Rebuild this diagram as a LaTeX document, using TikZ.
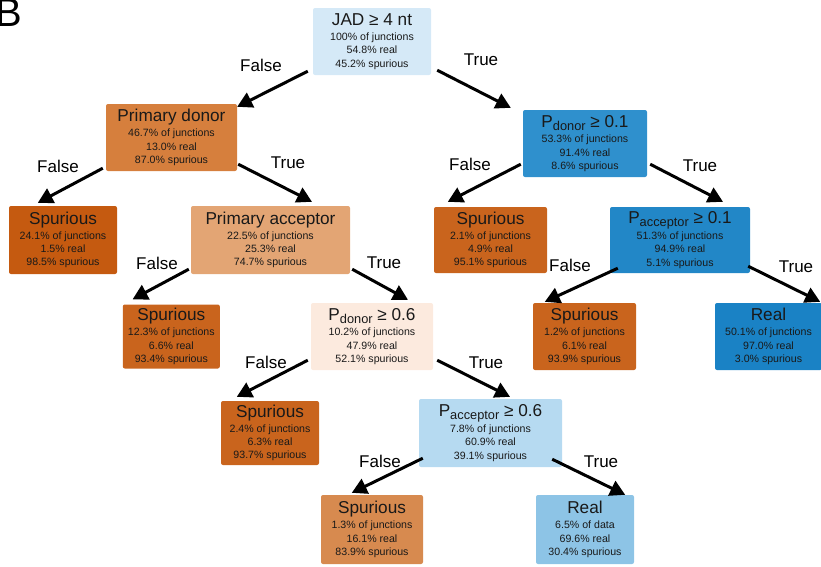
\documentclass[tikz,border=0pt]{standalone}
\usepackage{fontspec}
\setmainfont{Liberation Sans}
\usetikzlibrary{arrows.meta,calc}
\definecolor{cRoot}{HTML}{D5E9F7}
\definecolor{cPD}{HTML}{D67F3D}
\definecolor{cPa}{HTML}{E3A574}
\definecolor{cPdSix}{HTML}{FCEADE}
\definecolor{cSdeep}{HTML}{C55A10}
\definecolor{cSmid}{HTML}{C9641D}
\definecolor{cSlight}{HTML}{D78A4F}
\definecolor{cPone}{HTML}{2F90CD}
\definecolor{cPaone}{HTML}{2287C7}
\definecolor{cReal}{HTML}{1A82C5}
\definecolor{cPasix}{HTML}{B6DAF1}
\definecolor{cRealL}{HTML}{8DC4E6}
\newcommand{\ttl}{\fontsize{17.2}{19}\selectfont}
\newcommand{\subt}[1]{\raisebox{-3pt}{\fontsize{12.8}{13}\selectfont #1}}
\tikzset{
  box/.style 2 args={draw=none, rounded corners=2pt, inner sep=0pt, align=center,
    minimum width=#1, minimum height=#2,
    font=\fontsize{10.6}{13.4}\selectfont, text=black!90},
  lbl/.style={font=\fontsize{17}{19}\selectfont, inner sep=0pt},
  arr/.style={line width=3pt, -{Triangle[length=15pt,width=16pt]}}
}
\begin{document}
\begin{tikzpicture}[x=1pt,y=-1pt]
\useasboundingbox (0,0) rectangle (821,566);
\node[anchor=base east, font=\fontsize{40}{40}\selectfont, inner sep=0pt] (panel) at (22,26) {B};

\node[box={118}{67}, fill=cRoot] (root) at (372,41.5) {{\ttl JAD ≥ 4 nt}\\[1.5pt]100\% of junctions\\54.8\% real\\45.2\% spurious};
\node[box={131}{67}, fill=cPD] (pd) at (171.5,137.5) {{\ttl Primary donor}\\[1.5pt]46.7\% of junctions\\13.0\% real\\87.0\% spurious};
\node[box={124}{67}, fill=cPone] (p01) at (585,143.5) {{\ttl P\subt{donor} ≥ 0.1}\\[2pt]53.3\% of junctions\\91.4\% real\\8.6\% spurious};
\node[box={108}{68}, fill=cSdeep] (sL) at (63,240) {{\ttl Spurious}\\[1.5pt]24.1\% of junctions\\1.5\% real\\98.5\% spurious};
\node[box={159}{68}, fill=cPa] (pa) at (270.5,240) {{\ttl Primary acceptor}\\[1.5pt]22.5\% of junctions\\25.3\% real\\74.7\% spurious};
\node[box={113}{66}, fill=cSmid] (s21) at (490.5,240) {{\ttl Spurious}\\[1.5pt]2.1\% of junctions\\4.9\% real\\95.1\% spurious};
\node[box={140}{66}, fill=cPaone] (pa01) at (680,240) {{\ttl P\subt{acceptor} ≥ 0.1}\\[2pt]51.3\% of junctions\\94.9\% real\\5.1\% spurious};
\node[box={97}{64}, fill=cSmid] (s123) at (171.3,336.5) {{\ttl Spurious}\\[1.5pt]12.3\% of junctions\\6.6\% real\\93.4\% spurious};
\node[box={122}{67}, fill=cPdSix] (pd06) at (372,336.5) {{\ttl P\subt{donor} ≥ 0.6}\\[2pt]10.2\% of junctions\\47.9\% real\\52.1\% spurious};
\node[box={103}{67}, fill=cSmid] (s12) at (584.5,336.5) {{\ttl Spurious}\\[1.5pt]1.2\% of junctions\\6.1\% real\\93.9\% spurious};
\node[box={107}{67}, fill=cReal] (r501) at (768.5,336.5) {{\ttl Real}\\[1.5pt]50.1\% of junctions\\97.0\% real\\3.0\% spurious};
\node[box={98}{64}, fill=cSmid] (s24) at (270,433) {{\ttl Spurious}\\[1.5pt]2.4\% of junctions\\6.3\% real\\93.7\% spurious};
\node[box={143}{68}, fill=cPasix] (pa06) at (490.5,433) {{\ttl P\subt{acceptor} ≥ 0.6}\\[2pt]7.8\% of junctions\\60.9\% real\\39.1\% spurious};
\node[box={102}{69}, fill=cSlight] (s13) at (372,529.5) {{\ttl Spurious}\\[1.5pt]1.3\% of junctions\\16.1\% real\\83.9\% spurious};
\node[box={98}{69}, fill=cRealL] (r65) at (585,529.5) {{\ttl Real}\\[1.5pt]6.5\% of data\\69.6\% real\\30.4\% spurious};

% connectors
\draw[arr] ($(root.south west)+(-5,-4)$) -- ($(pd.north east)+(0,3)$);
\draw[arr] ($(root.south east)+(6,-5)$) -- ($(p01.north west)+(-12,-2)$);
\draw[arr] ($(pd.south west)+(-3,-3)$) -- ($(sL.north west)+(29,-3)$);
\draw[arr] ($(pd.south east)+(1,-7)$) -- ($(pa.north)+(41.5,-4)$);
\draw[arr] ($(p01.south west)+(-2,-13)$) -- ($(s21.north west)+(14,-5)$);
\draw[arr] ($(p01.south east)+(3,-13)$) -- ($(pa01.north)+(43,-5)$);
\draw[arr] ($(pa.south west)+(-2,-5)$) -- ($(s123.north west)+(10,-5)$);
\draw[arr] ($(pa.south east)+(2,-5)$) -- ($(pd06.north)+(36,-3)$);
\draw[arr] ($(pa01.south west)+(8,-5)$) -- ($(s12.north west)+(12,-1)$);
\draw[arr] ($(pa01.south east)+(-2,-7)$) -- ($(r501.north east)+(-2,-1)$);
\draw[arr] ($(pd06.south west)+(-3,-10)$) -- ($(s24.north west)+(16,-4)$);
\draw[arr] ($(pd06.south east)+(4,-10)$) -- ($(pa06.north)+(19.5,-2)$);
\draw[arr] ($(pa06.south west)+(4,-9)$) -- ($(s13.north west)+(31,-2)$);
\draw[arr] ($(pa06.south east)+(-10,-8)$) -- ($(r65.north east)+(-9,0)$);

% edge labels
\node[lbl] (f1) at (261,65) {False};
\node[lbl] (t1) at (481,60) {True};
\node[lbl] (f2) at (58,166) {False};
\node[lbl] (t2) at (288,163) {True};
\node[lbl] (f3) at (470,164) {False};
\node[lbl] (t3) at (700,166) {True};
\node[lbl] (f4) at (157,263) {False};
\node[lbl] (t4) at (384,263) {True};
\node[lbl] (f5) at (570,265) {False};
\node[lbl] (t5) at (796,267) {True};
\node[lbl] (f6) at (266,362) {False};
\node[lbl] (t6) at (486,363) {True};
\node[lbl] (f7) at (380,461) {False};
\node[lbl] (t7) at (601,462) {True};
\end{tikzpicture}
\end{document}
